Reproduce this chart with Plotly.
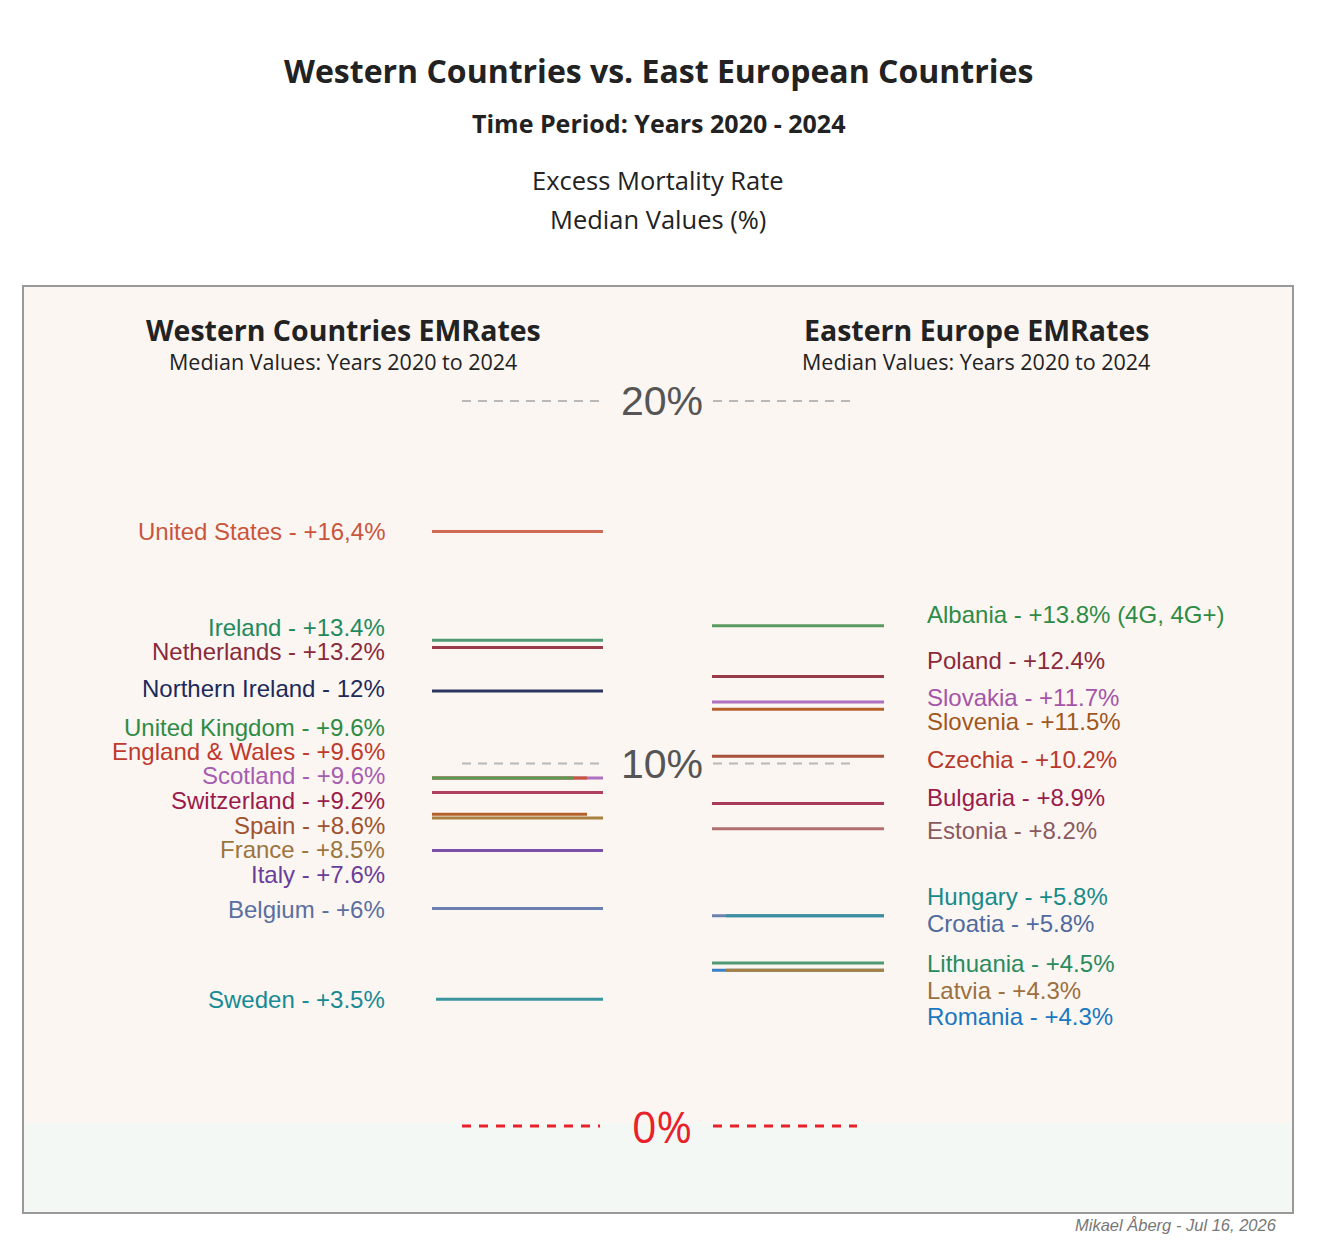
import plotly.graph_objects as go

# Western countries: median excess mortality 2020-2024 (%)
west_names = ["United States", "Ireland", "Netherlands", "Northern Ireland",
              "United Kingdom", "England & Wales", "Scotland", "Switzerland",
              "Spain", "France", "Italy", "Belgium", "Sweden"]
west_values = [16.4, 13.4, 13.2, 12.0, 9.6, 9.6, 9.6, 9.2, 8.6, 8.5, 7.6, 6.0, 3.5]
west_texts = ["+16,4%", "+13.4%", "+13.2%", "12%", "+9.6%", "+9.6%", "+9.6%",
              "+9.2%", "+8.6%", "+8.5%", "+7.6%", "+6%", "+3.5%"]

# Eastern Europe: median excess mortality 2020-2024 (%)
east_names = ["Albania", "Poland", "Slovakia", "Slovenia", "Czechia", "Bulgaria",
              "Estonia", "Hungary", "Croatia", "Lithuania", "Latvia", "Romania"]
east_values = [13.8, 12.4, 11.7, 11.5, 10.2, 8.9, 8.2, 5.8, 5.8, 4.5, 4.3, 4.3]
east_texts = ["+13.8% (4G, 4G+)", "+12.4%", "+11.7%", "+11.5%", "+10.2%", "+8.9%",
              "+8.2%", "+5.8%", "+5.8%", "+4.5%", "+4.3%", "+4.3%"]

# Reference levels on the scale
level_values = [20, 10, 0]
level_texts = ["20%", "10%", "0%"]

# ---- style ----
west_line_colors = ["#cf6a55", "#4f9a72", "#9b3a48", "#2c3560", "#5a9a50", "#c9553a",
                    "#b070c0", "#b04060", "#b5602a", "#a88040", "#7a50a8", "#6a80b0",
                    "#3a95a0"]
west_text_colors = ["#c9553d", "#1f8a5e", "#8a2a3a", "#1c2a5c", "#2e8b45", "#c0392b",
                    "#a65cb0", "#9b1b4a", "#a0522d", "#9c7440", "#6a3d9a", "#5a6fa0",
                    "#168a94"]
east_line_colors = ["#5a9a5e", "#9b3a48", "#b070c0", "#b5602a", "#a8503a", "#a83a5a",
                    "#b07070", "#3a90a0", "#6a80b0", "#4f9a72", "#a88040", "#3a80c8"]
east_text_colors = ["#2e8b45", "#8a2a3a", "#a455a8", "#a0581e", "#b8392b", "#9b1b4a",
                    "#8a5a60", "#168a8a", "#4f6a9f", "#2a8a5f", "#9c7040", "#1a78c2"]

# label y positions (in % units) so stacked labels do not collide
west_label_y = [16.39, 13.74, 13.08, 12.08, 10.98, 10.32, 9.68, 8.99, 8.28, 7.64,
                6.95, 5.96, 3.50]
east_label_y = [14.10, 12.83, 11.81, 11.17, 10.12, 9.05, 8.14, 6.34, 5.60, 4.47,
                3.75, 3.03]

# line ends (reference pixels) - tied values get shorter lines so each shows
west_x0 = [432] * 12 + [436]
west_x1 = [603, 603, 603, 603, 573, 587, 603, 603, 587, 603, 603, 603, 603]
east_x0 = [712, 712, 712, 712, 712, 712, 712, 726, 712, 712, 726, 712]
east_x1 = [884] * 12

# page is 1317x1257, the plot div sits 8px in from the top-left corner
OFF = 8
W, H = 1317 - 2 * OFF, 1257 - 2 * OFF
ZERO_PX = 1126
PX_PER_PCT = 36.25
Y_TOP = (ZERO_PX - OFF) / PX_PER_PCT
Y_BOT = -(OFF + H - ZERO_PX) / PX_PER_PCT

LABEL_FONT = "Liberation Sans, Arial, sans-serif"
TITLE_FONT = "Open Sans, sans-serif"
BG = "#fbf6f2"


def pct(p):
    # reference pixel row -> value on the % scale
    return (ZERO_PX - p) / PX_PER_PCT


fig = go.Figure()

# draw in reverse so the shorter tied lines end up on top
for i in reversed(range(len(west_names))):
    fig.add_trace(go.Scatter(
        x=[west_x0[i], west_x1[i]], y=[west_values[i], west_values[i]],
        mode="lines", line=dict(color=west_line_colors[i], width=3),
        hoverinfo="skip", showlegend=False))
for i in reversed(range(len(east_names))):
    fig.add_trace(go.Scatter(
        x=[east_x0[i], east_x1[i]], y=[east_values[i], east_values[i]],
        mode="lines", line=dict(color=east_line_colors[i], width=3),
        hoverinfo="skip", showlegend=False))

shapes = []
# panel background and frame
shapes.append(dict(type="rect", xref="x", yref="y", x0=23, x1=1293,
                   y0=pct(1213), y1=pct(286), fillcolor=BG, line_width=0,
                   layer="below"))
shapes.append(dict(type="rect", xref="x", yref="y", x0=23, x1=1293,
                   y0=pct(1213), y1=0.08, fillcolor="#f4f8f4",
                   line_width=0, layer="below"))
shapes.append(dict(type="rect", xref="x", yref="y", x0=23, x1=1293,
                   y0=pct(1213), y1=pct(286), line=dict(color="#999999", width=2),
                   fillcolor="rgba(0,0,0,0)"))

# dashed reference levels
for v in level_values:
    if v == 0:
        style = dict(color="#e8212a", width=3, dash="9px,8px")
    else:
        style = dict(color="#b8b8b8", width=2, dash="9px,7px")
    for a, b in [(462, 600), (713, 857)]:
        shapes.append(dict(type="line", xref="x", yref="y", x0=a, x1=b, y0=v, y1=v,
                           line=style, layer="below"))

annotations = []
for v, t in zip(level_values, level_texts):
    if v == 0:
        annotations.append(dict(x=662, y=v, text=t,
                                font=dict(family=TITLE_FONT, size=43, color="#e8212a")))
    else:
        annotations.append(dict(x=662, y=v, text=t,
                                font=dict(family=LABEL_FONT, size=41, color="#555555")))

for i, name in enumerate(west_names):
    annotations.append(dict(x=386, y=west_label_y[i],
                            text=f"{name} - {west_texts[i]}", xanchor="right",
                            font=dict(family=LABEL_FONT, size=24,
                                      color=west_text_colors[i])))
for i, name in enumerate(east_names):
    annotations.append(dict(x=926, y=east_label_y[i],
                            text=f"{name} - {east_texts[i]}", xanchor="left",
                            font=dict(family=LABEL_FONT, size=24,
                                      color=east_text_colors[i])))

# titles
dark = "#222222"
annotations += [
    dict(x=658, y=pct(70), text="<b>Western Countries vs. East European Countries</b>",
         font=dict(family=TITLE_FONT, size=32, color=dark)),
    dict(x=658, y=pct(123), text="<b>Time Period: Years 2020 - 2024</b>",
         font=dict(family=TITLE_FONT, size=25, color=dark)),
    dict(x=658, y=pct(180), text="Excess Mortality Rate",
         font=dict(family=TITLE_FONT, size=25.5, color=dark)),
    dict(x=658, y=pct(219), text="Median Values (%)",
         font=dict(family=TITLE_FONT, size=25.5, color=dark)),
    dict(x=343, y=pct(330), text="<b>Western Countries EMRates</b>",
         font=dict(family=TITLE_FONT, size=28.5, color=dark)),
    dict(x=343, y=pct(361), text="Median Values: Years 2020 to 2024",
         font=dict(family=TITLE_FONT, size=21.5, color=dark)),
    dict(x=976, y=pct(330), text="<b>Eastern Europe EMRates</b>",
         font=dict(family=TITLE_FONT, size=28.5, color=dark)),
    dict(x=976, y=pct(361), text="Median Values: Years 2020 to 2024",
         font=dict(family=TITLE_FONT, size=21.5, color=dark)),
    dict(x=1278, y=pct(1225), text="<i>Mikael Åberg - Jul 16, 2026</i>",
         xanchor="right",
         font=dict(family=LABEL_FONT, size=16.5, color="#777777")),
]
for a in annotations:
    a.setdefault("xanchor", "center")
    a.update(xref="x", yref="y", yanchor="middle", showarrow=False, borderpad=0)

fig.update_layout(
    width=W, height=H,
    margin=dict(l=0, r=0, t=0, b=0),
    paper_bgcolor="white", plot_bgcolor="rgba(0,0,0,0)",
    xaxis=dict(range=[OFF, OFF + W], visible=False, fixedrange=True),
    yaxis=dict(range=[Y_BOT, Y_TOP], visible=False, fixedrange=True),
    shapes=shapes, annotations=annotations,
)

fig.write_html("out.html")
